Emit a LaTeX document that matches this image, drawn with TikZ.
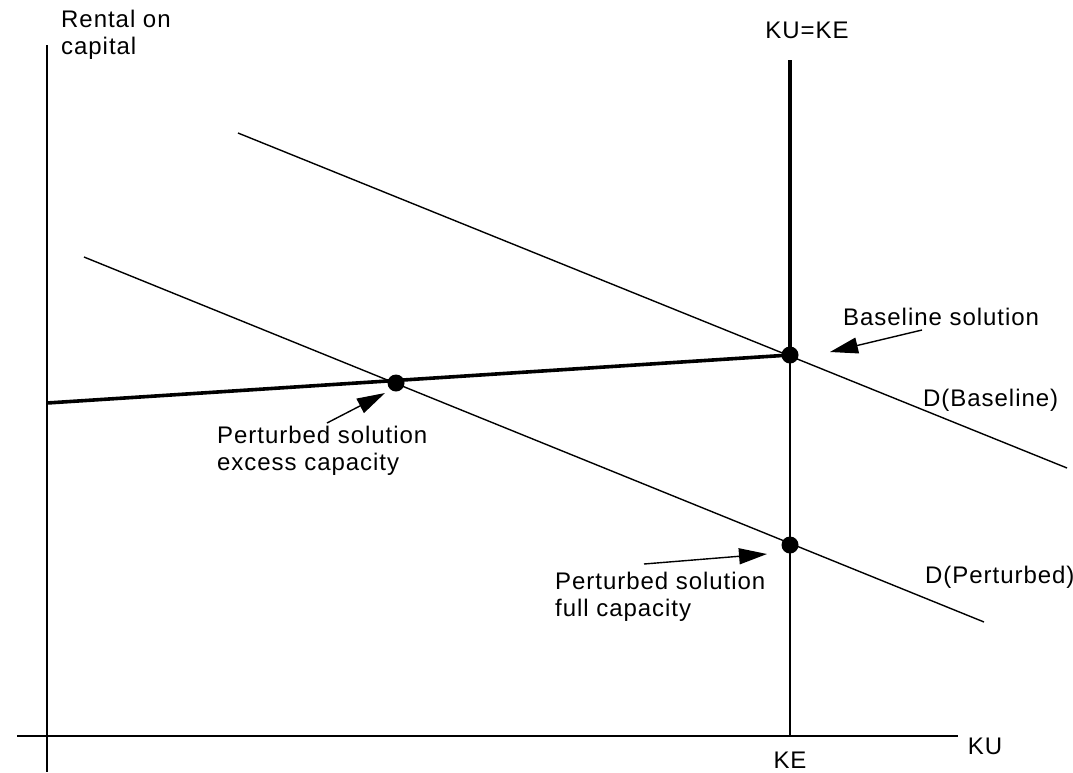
\documentclass[tikz,border=0pt]{standalone}
\usepackage{fontspec}
\setmainfont[LetterSpace=4]{Liberation Sans}
\usetikzlibrary{arrows.meta}
\begin{document}
\begin{tikzpicture}[x=1pt,y=-1pt,
  thinline/.style={line width=1.4pt},
  thickline/.style={line width=3.6pt},
  lbl/.style={inner sep=0pt,font=\fontsize{24}{27}\selectfont,align=left,anchor=base west},
  dot/.style={circle,fill=black,inner sep=0pt,minimum size=17pt},
  pointer/.style={line width=1.4pt,-{Triangle[length=28pt,width=16pt]}}]
\useasboundingbox (0,0) rectangle (1073,772);
% axes
\coordinate (ytop) at (47,45);
\coordinate (ybot) at (47,772);
\coordinate (xl) at (17,736);
\coordinate (xr) at (958,736);
\draw[thinline] (ytop) -- (ybot);
\draw[thinline] (xl) -- (xr);
% key points
\coordinate (base) at (790,355);
\coordinate (pexc) at (396,383);
\coordinate (pfull) at (790,545);
\coordinate (ke) at (790,736);
\coordinate (ketop) at (790,60);
\coordinate (sl) at (47,403);
% demand curves
\coordinate (db1) at (238,133);
\coordinate (db2) at (1067,468);
\coordinate (dp1) at (84,257);
\coordinate (dp2) at (984,622);
\draw[thinline] (db1) -- (db2);
\draw[thinline] (dp1) -- (dp2);
% KE line
\draw[thinline] (base) -- (ke);
\draw[thickline] (ketop) -- (base);
\draw[thickline] (sl) -- (base);
% dots
\node[dot] (nbase) at (base) {};
\node[dot] (npexc) at (pexc) {};
\node[dot] (npfull) at (pfull) {};
% labels (base anchor of a two-line label is the last line)
\node[lbl] (rental) at (61,54) {Rental on\\capital};
\node[lbl,anchor=base] (kuke) at (807,38) {KU=KE};
\node[lbl] (lbase) at (843,325) {Baseline solution};
\node[lbl] (dbase) at (923,406) {D(Baseline)};
\node[lbl] (lexc) at (217,470) {Perturbed solution\\excess capacity};
\node[lbl] (dpert) at (925,583) {D(Perturbed)};
\node[lbl] (lfull) at (555,616) {Perturbed solution\\full capacity};
\node[lbl,anchor=base] (ku) at (985,754) {KU};
\node[lbl,anchor=base] (kel) at (790,768) {KE};
% pointers
\coordinate (a1s) at (922,330);
\coordinate (a1e) at (830,352);
\coordinate (a2s) at (327,423);
\coordinate (a2e) at (385,393);
\coordinate (a3s) at (644,564);
\coordinate (a3e) at (767,554);
\draw[pointer] (a1s) -- (a1e);
\draw[pointer] (a2s) -- (a2e);
\draw[pointer] (a3s) -- (a3e);
\end{tikzpicture}
\end{document}
